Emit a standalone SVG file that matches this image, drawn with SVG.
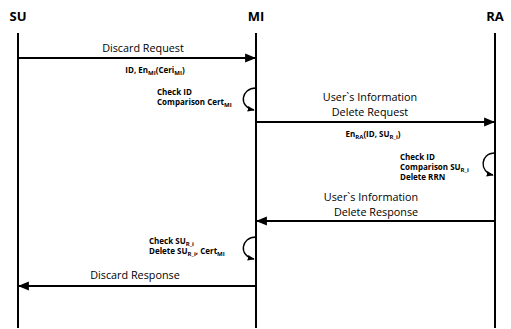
<svg xmlns="http://www.w3.org/2000/svg" width="511" height="329" viewBox="0 0 511 329">
  <style>
    .head { font-family: "Open Sans", "Noto Sans", "Liberation Sans", sans-serif; font-weight: bold; font-size: 13px; fill: #000; text-anchor: middle; }
    .msg { font-family: "Open Sans", "Noto Sans", "Liberation Sans", sans-serif; font-size: 10.8px; fill: #000; text-anchor: middle; }
    .note { font-family: "Open Sans", "Noto Sans", "Liberation Sans", sans-serif; font-weight: bold; font-size: 8px; fill: #000; }
    .sub { font-size: 6px; }
    .life { stroke: #000; stroke-width: 2; fill: none; }
    .arrow { stroke: #000; stroke-width: 2; fill: none; marker-end: url(#tip); }
    .loop { stroke: #000; stroke-width: 1.4; fill: none; marker-end: url(#tipSmall); }
  </style>
  <defs>
    <marker id="tip" viewBox="0 0 10 10" refX="9" refY="5" markerWidth="5.5" markerHeight="5.5" orient="auto" markerUnits="strokeWidth">
      <path d="M0,1 L10,5 L0,9 Z" fill="#000"/>
    </marker>
    <marker id="tipSmall" viewBox="0 0 10 10" refX="9" refY="5" markerWidth="5" markerHeight="5" orient="auto" markerUnits="strokeWidth">
      <path d="M0,1 L10,5 L0,9 Z" fill="#000"/>
    </marker>
  </defs>

  <rect width="511" height="329" fill="#fff"/>

  <!-- participants -->
  <g id="node-su">
    <text class="head" x="18" y="21">SU</text>
    <line class="life" x1="18" y1="33" x2="18" y2="328"/>
  </g>
  <g id="node-mi">
    <text class="head" x="256" y="21">MI</text>
    <line class="life" x1="256" y1="33" x2="256" y2="328"/>
  </g>
  <g id="node-ra">
    <text class="head" x="495" y="21">RA</text>
    <line class="life" x1="495" y1="33" x2="495" y2="328"/>
  </g>

  <!-- messages and self checks -->
  <g id="connectors">
    <line class="arrow" x1="18" y1="58" x2="255" y2="58"/>
    <line class="arrow" x1="256" y1="122" x2="494" y2="122"/>
    <line class="arrow" x1="495" y1="221" x2="257" y2="221"/>
    <line class="arrow" x1="256" y1="286" x2="19" y2="286"/>

    <path class="loop" d="M256,88 C241,88 238,107 254,110"/>
    <path class="loop" d="M495,153 C480,153 479,172 493,175"/>
    <path class="loop" d="M256,237 C241,237 238,256 254,259"/>
  </g>

  <g id="labels">
    <text class="msg" x="143" y="52">Discard Request</text>
    <text class="note" x="155" y="73" text-anchor="middle">ID, En<tspan class="sub" dy="1.5">MI</tspan><tspan dy="-1.5">(Ceri</tspan><tspan class="sub" dy="1.5">MI</tspan><tspan dy="-1.5">)</tspan></text>

    <text class="note" x="157" y="95">Check ID</text>
    <text class="note" x="157" y="105">Comparison Cert<tspan class="sub" dy="1.5">MI</tspan></text>

    <text class="msg" x="370" y="101">User`s Information</text>
    <text class="msg" x="370" y="116">Delete Request</text>
    <text class="note" x="373" y="137" text-anchor="middle">En<tspan class="sub" dy="1.5">RA</tspan><tspan dy="-1.5">(ID, SU</tspan><tspan class="sub" dy="1.5">R_i</tspan><tspan dy="-1.5">)</tspan></text>

    <text class="note" x="400" y="160">Check ID</text>
    <text class="note" x="400" y="170">Comparison SU<tspan class="sub" dy="1.5">R_i</tspan></text>
    <text class="note" x="400" y="180">Delete RRN</text>

    <text class="msg" x="371" y="201">User`s Information</text>
    <text class="msg" x="376" y="216">Delete Response</text>

    <text class="note" x="149" y="244">Check SU<tspan class="sub" dy="1.5">R_i</tspan></text>
    <text class="note" x="149" y="254">Delete SU<tspan class="sub" dy="1.5">R_i</tspan><tspan dy="-1.5">, Cert</tspan><tspan class="sub" dy="1.5">MI</tspan></text>

    <text class="msg" x="135" y="279">Discard Response</text>
  </g>
</svg>
